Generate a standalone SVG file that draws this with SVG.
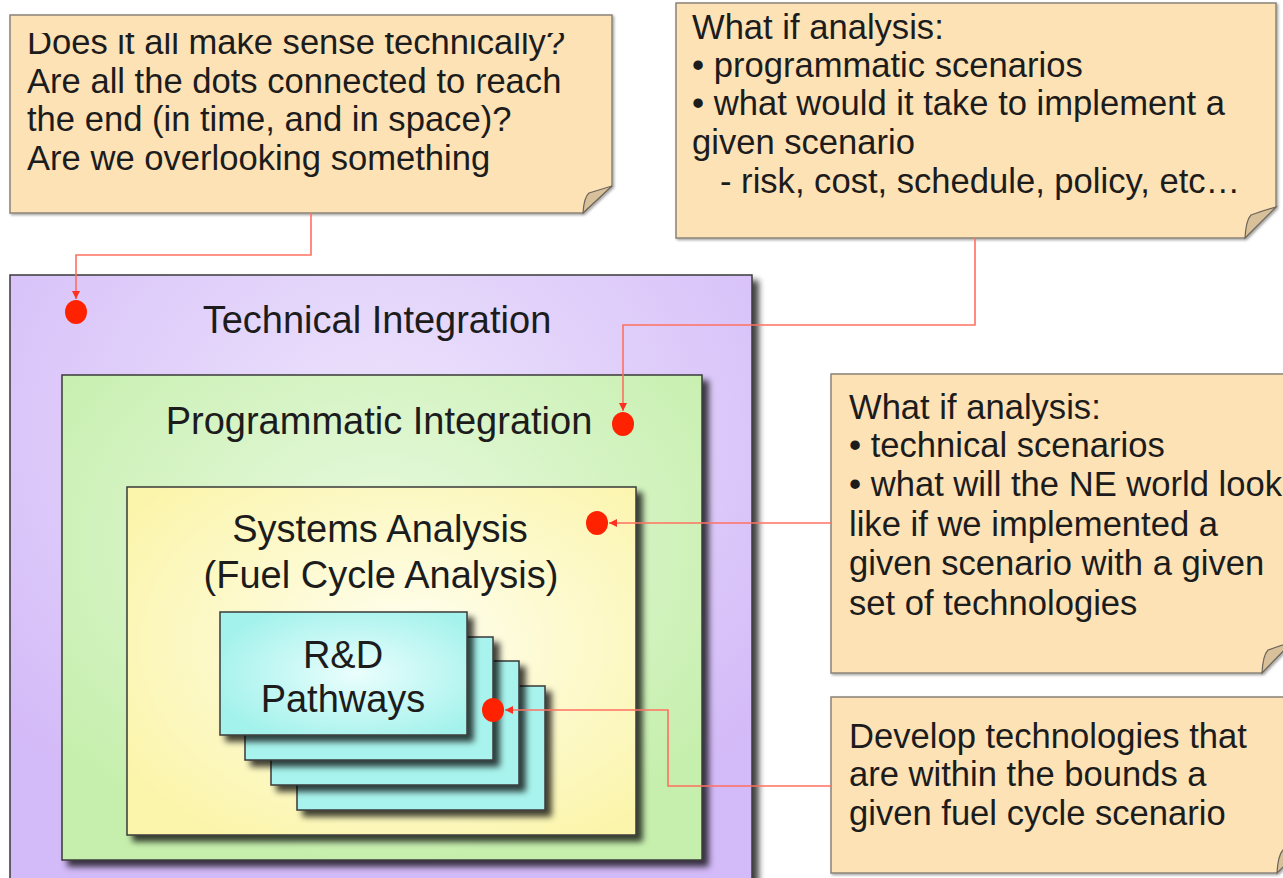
<svg xmlns="http://www.w3.org/2000/svg" width="1283" height="878" viewBox="0 0 1283 878">
  <style>
    .txt { font-family: "Liberation Sans", Arial, Helvetica, sans-serif; fill: #1c1c1c; }
    .note-txt { font-size: 34.6px; }
    .title { font-size: 38px; text-anchor: middle; }
    .note { fill: #fde2b6; stroke: #8a8478; stroke-width: 1.5; }
    .flap { fill: #d8c09a; stroke: #6e665a; stroke-width: 1.2; }
    .box { stroke: #3a3a3a; stroke-width: 1.5; }
    .dot { fill: #ff2200; }
    .conn { fill: none; stroke: #ff7060; stroke-width: 1.6; }
  </style>
  <defs>
    <filter id="shadow" x="-10%" y="-10%" width="130%" height="130%">
      <feDropShadow dx="6" dy="6" stdDeviation="3" flood-color="#000" flood-opacity="0.75"/>
    </filter>
    <filter id="noteShadow" x="-5%" y="-5%" width="115%" height="115%">
      <feDropShadow dx="1.5" dy="1.5" stdDeviation="1" flood-color="#000" flood-opacity="0.35"/>
    </filter>
    <radialGradient id="gPurple" cx="50%" cy="25%" r="70%">
      <stop offset="0" stop-color="#ede3fc"/>
      <stop offset="1" stop-color="#d3baf8"/>
    </radialGradient>
    <radialGradient id="gGreen" cx="50%" cy="35%" r="65%">
      <stop offset="0" stop-color="#e8f9df"/>
      <stop offset="1" stop-color="#c6efad"/>
    </radialGradient>
    <radialGradient id="gYellow" cx="55%" cy="45%" r="65%">
      <stop offset="0" stop-color="#fffef0"/>
      <stop offset="1" stop-color="#fbf5ac"/>
    </radialGradient>
    <radialGradient id="gCyan" cx="55%" cy="50%" r="60%">
      <stop offset="0" stop-color="#eafefd"/>
      <stop offset="1" stop-color="#a4f2ec"/>
    </radialGradient>
    <!-- first line of the top-left note is cut along its top edge -->
    <clipPath id="clipNote1">
      <rect x="10" y="33" width="600" height="180"/>
    </clipPath>
    <marker id="arrow" markerWidth="9" markerHeight="9" refX="8" refY="4" orient="auto" markerUnits="userSpaceOnUse">
      <path d="M0,0 L8,4 L0,8 Z" fill="#ff3020"/>
    </marker>
  </defs>

  <!-- nested integration boxes -->
  <g id="technical-integration">
    <rect class="box" x="10" y="275" width="742" height="620" fill="url(#gPurple)" filter="url(#shadow)"/>
    <text class="txt title" x="377" y="333">Technical Integration</text>
    <ellipse class="dot" cx="76" cy="312" rx="11" ry="12"/>
  </g>

  <g id="programmatic-integration">
    <rect class="box" x="62" y="375" width="640" height="485" fill="url(#gGreen)" filter="url(#shadow)"/>
    <text class="txt title" x="379" y="434">Programmatic Integration</text>
    <ellipse class="dot" cx="623" cy="424" rx="11" ry="12"/>
  </g>

  <g id="systems-analysis">
    <rect class="box" x="127" y="487" width="509" height="348" fill="url(#gYellow)" filter="url(#shadow)"/>
    <text class="txt title" x="380" y="542">Systems Analysis</text>
    <text class="txt title" x="381" y="588">(Fuel Cycle Analysis)</text>
    <ellipse class="dot" cx="597" cy="523" rx="11" ry="12"/>
  </g>

  <g id="rd-pathways">
    <rect class="box" x="297" y="686" width="248" height="124" fill="#a8f3ed" filter="url(#shadow)"/>
    <rect class="box" x="271" y="661" width="248" height="124" fill="#a8f3ed" filter="url(#shadow)"/>
    <rect class="box" x="245" y="637" width="248" height="123" fill="#a8f3ed" filter="url(#shadow)"/>
    <rect class="box" x="220" y="612" width="247" height="123" fill="url(#gCyan)" filter="url(#shadow)"/>
    <text class="txt title" x="343" y="668">R&amp;D</text>
    <text class="txt title" x="343" y="712">Pathways</text>
    <ellipse class="dot" cx="493" cy="710" rx="11" ry="12"/>
  </g>

  <!-- sticky notes -->
  <g id="note-technical-sense">
    <path class="note" filter="url(#noteShadow)" d="M10,15 H612 V186 L583,213 H10 Z"/>
    <path class="flap" d="M583,213 Q584,197 589,193 Q599,190 612,186 Z"/>
    <text class="txt note-txt" x="27" y="54" clip-path="url(#clipNote1)">Does it all make sense technically?</text>
    <text class="txt note-txt" x="27" y="93">Are all the dots connected to reach</text>
    <text class="txt note-txt" x="27" y="131">the end (in time, and in space)?</text>
    <text class="txt note-txt" x="27" y="170">Are we overlooking something</text>
  </g>

  <g id="note-programmatic">
    <path class="note" filter="url(#noteShadow)" d="M676,3 H1276 V207 L1245,238 H676 Z"/>
    <path class="flap" d="M1245,238 Q1246,220 1251,215 Q1262,211 1276,207 Z"/>
    <text class="txt note-txt" x="692" y="39">What if analysis:</text>
    <text class="txt note-txt" x="692" y="77">• programmatic scenarios</text>
    <text class="txt note-txt" x="692" y="115">• what would it take to implement a</text>
    <text class="txt note-txt" x="692" y="154">given scenario</text>
    <text class="txt note-txt" x="720" y="193">- risk, cost, schedule, policy, etc…</text>
  </g>

  <g id="note-technical-scenarios">
    <path class="note" filter="url(#noteShadow)" d="M831,374 H1292 V642 L1262,673 H831 Z"/>
    <path class="flap" d="M1262,673 Q1263,655 1268,650 Q1279,646 1292,642 Z"/>
    <text class="txt note-txt" x="849" y="419">What if analysis:</text>
    <text class="txt note-txt" x="849" y="457">• technical scenarios</text>
    <text class="txt note-txt" x="849" y="496">• what will the NE world look</text>
    <text class="txt note-txt" x="849" y="536">like if we implemented a</text>
    <text class="txt note-txt" x="849" y="575">given scenario with a given</text>
    <text class="txt note-txt" x="849" y="615">set of technologies</text>
  </g>

  <g id="note-develop">
    <path class="note" filter="url(#noteShadow)" d="M831,697 H1307 V843 L1277,873 H831 Z"/>
    <path class="flap" d="M1277,873 Q1278,855 1283,850 Q1294,846 1307,843 Z"/>
    <text class="txt note-txt" x="849" y="748">Develop technologies that</text>
    <text class="txt note-txt" x="849" y="786">are within the bounds a</text>
    <text class="txt note-txt" x="849" y="825">given fuel cycle scenario</text>
  </g>

  <!-- connectors from notes to the red ports -->
  <g id="connectors">
    <path class="conn" d="M311,213 V255 H76 V299" marker-end="url(#arrow)"/>
    <path class="conn" d="M975,238 V325 H623 V411" marker-end="url(#arrow)"/>
    <path class="conn" d="M831,523 H609" marker-end="url(#arrow)"/>
    <path class="conn" d="M831,786 H668 V710 H505" marker-end="url(#arrow)"/>
  </g>
</svg>
